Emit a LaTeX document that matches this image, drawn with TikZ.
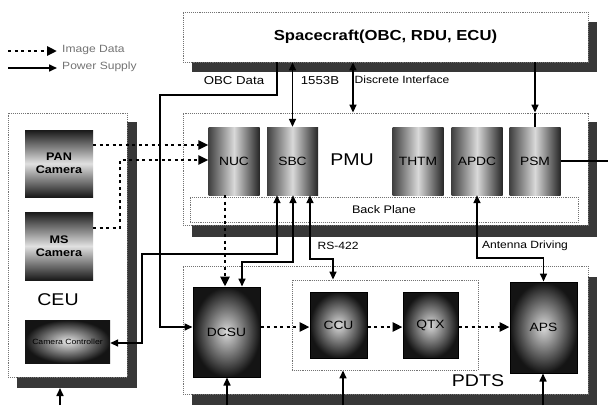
\documentclass[tikz,border=0pt]{standalone}
\usepackage{fontspec}
\setmainfont[FakeStretch=1.15]{Liberation Sans}
\usetikzlibrary{arrows.meta}
\begin{document}
\begin{tikzpicture}[x=1pt,y=-1pt,
  pw/.style={line width=1.6pt, draw=black},
  pwa/.style={pw, -{Triangle[length=8pt,width=7pt]}},
  pwb/.style={pw, {Triangle[length=8pt,width=7pt]}-{Triangle[length=8pt,width=7pt]}},
  img/.style={line width=2.6pt, dash pattern=on 3pt off 3.5pt, -{Triangle[length=10pt,width=9pt]}},
  frame/.style={draw=black!55, densely dotted, line width=0.9pt, fill=white, rectangle, inner sep=0pt},
  shad/.style={fill=black!78},
  cyl/.style={rectangle, inner sep=0pt, minimum width=51pt, minimum height=68pt,
    left color=black!75, right color=black!85, middle color=black!15, font=\fontsize{12}{14}\selectfont},
  blk/.style={rectangle, draw=black, line width=1pt, inner sep=0pt,
    inner color=black!15, outer color=black!92, font=\fontsize{12}{14}\selectfont},
  cam/.style={rectangle, inner sep=0pt, minimum width=68pt, minimum height=67pt,
    top color=black!90, bottom color=black!90, middle color=black!12,
    font=\fontsize{11}{13}\selectfont\bfseries, align=center},
  lbl/.style={font=\fontsize{10.5}{12}\selectfont, inner sep=1pt},
  legend/.style={font=\fontsize{10.5}{12}\selectfont, text=black!55, inner sep=1pt},
  big/.style={font=\fontsize{17}{20}\selectfont, inner sep=1pt},
]
\useasboundingbox (0,0) rectangle (608,405);
% shadows
\fill[shad] (192,22) rectangle (597,72);
\fill[shad] (192,122) rectangle (597,237);
\fill[shad] (192,277) rectangle (597,405);
\fill[shad] (17,122) rectangle (137,388);
% frames
\node[frame, minimum width=405pt, minimum height=50pt, font=\fontsize{14.5}{17}\selectfont\bfseries] (sc) at (385.5,37) {Spacecraft(OBC, RDU, ECU)};
\node[frame, minimum width=405pt, minimum height=112pt] (pmu) at (385.5,169) {};
\node[frame, minimum width=405pt, minimum height=128pt] (pdts) at (385.5,330) {};
\node[frame, minimum width=119pt, minimum height=264pt] (ceu) at (67.5,245) {};
\node[frame, minimum width=388pt, minimum height=25pt, font=\fontsize{11}{12}\selectfont] (bp) at (384,209.5) {Back Plane};
\node[frame, minimum width=186pt, minimum height=90pt] (grp) at (385,325) {};
% big labels
\node[big] (pmulbl) at (352,160) {PMU};
\node[big] (ceulbl) at (58,300) {CEU};
\node[big] (pdtslbl) at (478,381) {PDTS};
% PMU cards
\node[cyl] (nuc) at (234,161) {NUC};
\node[cyl] (sbc) at (292.5,161) {SBC};
\node[cyl] (thtm) at (418,161) {THTM};
\node[cyl] (apdc) at (477,161) {APDC};
\node[cyl] (psm) at (535,161) {PSM};
% PDTS blocks
\node[blk, minimum width=67pt, minimum height=90pt] (dcsu) at (226.5,332) {DCSU};
\node[blk, minimum width=57pt, minimum height=66pt] (ccu) at (338.5,325) {CCU};
\node[blk, minimum width=55pt, minimum height=66pt] (qtx) at (430.5,325) {QTX};
\node[blk, minimum width=67pt, minimum height=91pt] (aps) at (543.5,327.5) {APS};
% CEU blocks
\node[cam] (pan) at (59,163.5) {PAN\\Camera};
\node[cam, minimum height=68pt] (ms) at (59,246) {MS\\Camera};
\node[rectangle, inner sep=0pt, minimum width=85pt, minimum height=43pt,
      inner color=black!10, outer color=black!92, font=\fontsize{7.5}{9}\selectfont] (ctrl) at (67.5,341.5) {Camera Controller};
% legend
\coordinate (l1a) at (8,51);
\coordinate (l1b) at (57,51);
\coordinate (l2a) at (8,68);
\coordinate (l2b) at (57,68);
\draw[img] (l1a) -- (l1b);
\draw[pwa] (l2a) -- (l2b);
\node[legend, anchor=west] (l1t) at (61,50) {Image Data};
\node[legend, anchor=west] (l2t) at (61,67) {Power Supply};
% labels
\node[lbl, font=\fontsize{11.5}{13}\selectfont] (obcl) at (234,81) {OBC Data};
\node[lbl, font=\fontsize{11.5}{13}\selectfont] (l1553) at (320,81) {1553B};
\node[lbl] (discl) at (402,80) {Discrete Interface};
\node[lbl] (rsl) at (338,246) {RS-422};
\node[lbl] (antl) at (525,246) {Antenna Driving};
% free ends
\coordinate (psmout) at (608,161);
\coordinate (b1) at (227,405);
\coordinate (b2) at (343,405);
\coordinate (b3) at (543,405);
\coordinate (b4) at (60,405);
\coordinate (ceub) at (60,388);
% spacecraft connections
\draw[pwa] (sc.south -| 277,0) -- (277,95) -- (160,95) |- (dcsu.west |- 0,327);
\draw[pwb] (sc.south -| sbc.north) -- (sbc.north);
\draw[pwb] (sc.south -| 353,0) -- (pmu.north -| 353,0);
\draw[pwa] (sc.south -| psm.north) -- (pmu.north -| psm.north);
\draw[pw] (pmu.north -| psm.north) -- (psm.north);
\draw[pw] (psm.east) -- (psmout);
% image data from cameras
\draw[img] (pan.east |- 0,145) -- (nuc.west |- 0,145);
\draw[img] (ms.east |- 0,228) -| (120,160) -- (nuc.west |- 0,160);
\draw[img] (nuc.south -| 225,0) -- (dcsu.north -| 225,0);
% SBC links
\draw[pwb] (sbc.south -| 277,0) -- (277,254) -- (142,254) |- (ctrl.east |- 0,343);
\draw[pwb] (sbc.south -| 293,0) -- (293,262) -- (242,262) -- (dcsu.north -| 242,0);
\draw[pwb] (sbc.south -| 310,0) -- (310,259) -- (333,259) -- (grp.north -| 333,0);
\draw[pwb] (apdc.south) -- (apdc.south |- 0,258) -| (aps.north);
% PDTS chain
\draw[img] (dcsu.east |- 0,327) -- (ccu.west |- 0,327);
\draw[img] (ccu.east |- 0,327) -- (qtx.west |- 0,327);
\draw[img] (qtx.east |- 0,327) -- (aps.west |- 0,327);
% power from below
\draw[pwa] (b1) -- (b1 |- dcsu.south);
\draw[pwa] (b2) -- (b2 |- grp.south);
\draw[pwa] (b3) -- (b3 |- aps.south);
\draw[pwa] (b4) -- (ceub);
\end{tikzpicture}
\end{document}
